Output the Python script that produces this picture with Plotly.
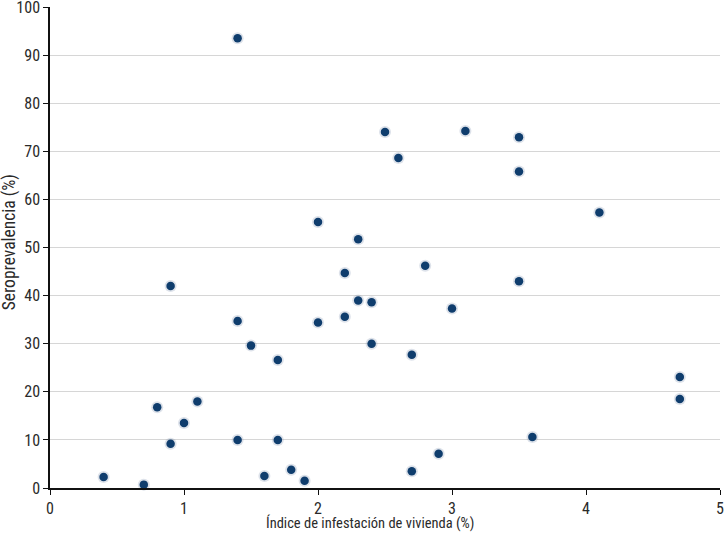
import plotly.graph_objects as go

# --- data ---
infestacion = [0.4, 0.7, 0.8, 0.9, 0.9, 1.0, 1.1, 1.4, 1.4, 1.4,
               1.5, 1.6, 1.7, 1.7, 1.8, 1.9, 2.0, 2.0, 2.2, 2.2,
               2.3, 2.3, 2.4, 2.4, 2.5, 2.6, 2.7, 2.7, 2.8, 2.9,
               3.0, 3.1, 3.5, 3.5, 3.5, 3.6, 4.1, 4.7, 4.7]
seroprevalencia = [2.3, 0.7, 16.8, 9.2, 42.0, 13.5, 18.0, 93.5, 34.7, 10.0,
                   29.6, 2.5, 26.6, 10.0, 3.8, 1.5, 55.3, 34.4, 44.7, 35.6,
                   51.7, 39.0, 38.6, 30.0, 74.0, 68.6, 27.7, 3.5, 46.2, 7.1,
                   37.3, 74.2, 72.9, 65.8, 43.0, 10.6, 57.3, 23.1, 18.5]

x_ticks = [0, 1, 2, 3, 4, 5]
y_ticks = [0, 10, 20, 30, 40, 50, 60, 70, 80, 90, 100]

X_TITLE = "Índice de infestación de vivienda (%)"
Y_TITLE = "Seroprevalencia (%)"

FONT = "Roboto Condensed, Liberation Sans Narrow, sans-serif"

fig = go.Figure()

# soft halo under the points
fig.add_trace(go.Scatter(
    x=infestacion, y=seroprevalencia, mode="markers",
    marker=dict(size=12, color="rgba(120,140,170,0.25)", line_width=0),
    hoverinfo="skip", showlegend=False, cliponaxis=False,
))

fig.add_trace(go.Scatter(
    x=infestacion, y=seroprevalencia, mode="markers",
    marker=dict(size=8.5, color="#0f3d6d", line=dict(width=0)),
    showlegend=False, cliponaxis=False,
))

# axis titles as annotations (the original sits a bit off-centre)
fig.add_annotation(
    text=X_TITLE, xref="paper", yref="paper", x=0.478, y=0,
    yshift=-35, yanchor="middle", showarrow=False,
    font=dict(size=14.5),
)
fig.add_annotation(
    text=Y_TITLE, xref="paper", yref="paper", x=-0.061, y=0.511,
    textangle=-90, xanchor="center", yanchor="middle", showarrow=False,
    font=dict(size=17.5),
)

fig.update_layout(
    width=724, height=533,
    margin=dict(l=50, r=4, t=7, b=45, autoexpand=False),
    plot_bgcolor="white", paper_bgcolor="white",
    font=dict(family=FONT, size=16, color="#2a2a2a"),
    xaxis=dict(
        range=[0, 5], tickvals=x_ticks,
        showgrid=False, zeroline=False, automargin=False,
        showline=True, linecolor="#111111", linewidth=1.5,
        ticks="outside", ticklen=5, tickcolor="#111111",
        ticklabeloverflow="allow",
    ),
    yaxis=dict(
        range=[0, 100], tickvals=y_ticks,
        showgrid=True, gridcolor="#d6d6d6", gridwidth=1,
        zeroline=False, automargin=False,
        showline=True, linecolor="#111111", linewidth=1.5,
        ticks="outside", ticklen=5, tickcolor="#111111",
        ticklabeloverflow="allow",
    ),
)

# the page's default body margin would shift the chart by 8px
fig.write_html("out.html", config={"displayModeBar": False},
               post_script="document.body.style.margin='0';")
